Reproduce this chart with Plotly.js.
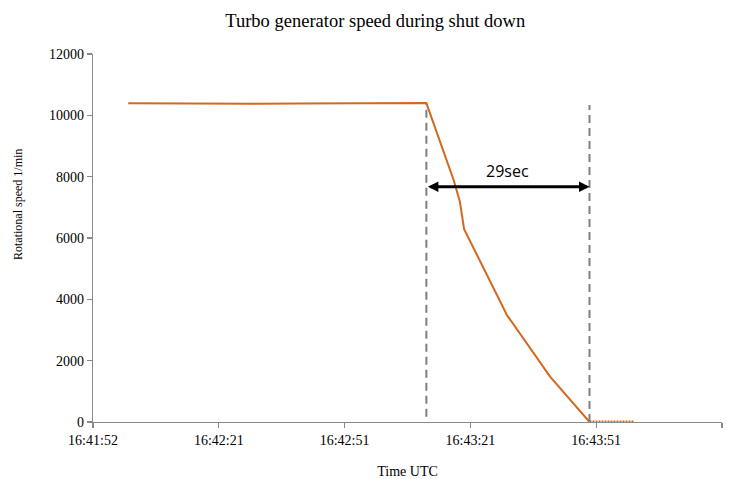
<!DOCTYPE html>
<html>
<head>
<meta charset="utf-8">
<script src="https://cdn.plot.ly/plotly-3.0.1.min.js"></script>
<style>html,body{margin:0;padding:0;background:#fff;}#chart{width:746px;height:479px;}</style>
</head>
<body>
<div id="chart"></div>
<script>
// seconds after 16:41:52
const timeSec = [8.4, 18.5, 28.5, 38.5, 48.6, 58.5, 68.4, 79.5, 86.0, 87.5, 88.5, 98.7, 109.0, 118.4];
const speedRpm = [10390, 10380, 10380, 10380, 10385, 10390, 10415, 10400, 7890, 7180, 6290, 3490, 1480, 0];
const flatSec = [118.4, 123.6, 128.9];
const flatSpeed = [0, 0, 0];
const tickSec = [0, 30, 60, 90, 120, 150];
const tickLabels = ['16:41:52', '16:42:21', '16:42:51', '16:43:21', '16:43:51', '16:44:21'];
const markerSec = [79.5, 118.4];
const markerTop = [10400, 10340];
const markerBottom = [170, 0];
const arrowSpeed = 7670;
const arrowLabel = '29sec';

const serif = 'Liberation Serif, Times New Roman, serif';
const axisColor = '#898989';
const orange = '#D2691E';

const shapes = markerSec.map((xs, i) => ({
  type: 'line', xref: 'x', yref: 'y',
  x0: xs, x1: xs, y0: markerBottom[i], y1: markerTop[i],
  line: {color: '#7f7f7f', width: 2, dash: '8px,5px'}
}));

const data = [{
  x: timeSec, y: speedRpm, type: 'scatter', mode: 'lines',
  line: {color: orange, width: 2}, cliponaxis: false
}, {
  x: flatSec, y: flatSpeed, type: 'scatter', mode: 'lines',
  line: {color: orange, width: 3, dash: '2px,1px'}, cliponaxis: false
}];

const layout = {
  width: 746, height: 479,
  margin: {l: 93, r: 24, t: 54, b: 57},
  paper_bgcolor: '#fff', plot_bgcolor: '#fff',
  showlegend: false,
  title: {text: 'Turbo generator speed during shut down', xref: 'container', x: 0.503, yref: 'container', y: 0.957, yanchor: 'middle', xanchor: 'center',
          font: {family: serif, size: 18.5, color: '#000'}},
  xaxis: {
    range: [0, 150], tickvals: tickSec, ticktext: tickLabels,
    showgrid: false, zeroline: false, showline: true, linecolor: axisColor, linewidth: 1.3, layer: 'below traces',
    ticks: 'outside', ticklen: 5, tickcolor: axisColor, tickwidth: 1.3,
    tickfont: {family: serif, size: 14, color: '#000'},
    title: {text: 'Time UTC', font: {family: serif, size: 14, color: '#000'}, standoff: 21}
  },
  yaxis: {
    range: [0, 12000], dtick: 2000, tick0: 0, tickformat: 'd',
    showgrid: false, zeroline: false, showline: true, linecolor: axisColor, linewidth: 1.3, layer: 'below traces',
    ticks: 'outside', ticklen: 5, tickcolor: axisColor, tickwidth: 1.3,
    tickfont: {family: serif, size: 14, color: '#000'}
  },
  shapes: shapes,
  annotations: [
    {x: markerSec[1], y: arrowSpeed, xref: 'x', yref: 'y', ax: markerSec[0], ay: arrowSpeed, axref: 'x', ayref: 'y',
     text: '', showarrow: true, arrowside: 'end+start', arrowhead: 2, startarrowhead: 2, arrowsize: 0.7, startarrowsize: 0.7,
     arrowwidth: 3, arrowcolor: '#000', standoff: 0, startstandoff: 0},
    {x: (markerSec[0] + markerSec[1]) / 2, y: arrowSpeed, xref: 'x', yref: 'y', yshift: 16,
     text: arrowLabel, showarrow: false, font: {family: 'Open Sans, Carlito, sans-serif', size: 16, color: '#000'}},
    {text: 'Rotational speed 1/min', xref: 'paper', yref: 'paper', x: (18 - 93) / 629, y: (422 - 205) / 368,
     xanchor: 'center', yanchor: 'middle', textangle: -90, showarrow: false,
     font: {family: serif, size: 12, color: '#000'}}
  ]
};

Plotly.newPlot('chart', data, layout, {displayModeBar: false, staticPlot: true});
</script>
</body>
</html>
